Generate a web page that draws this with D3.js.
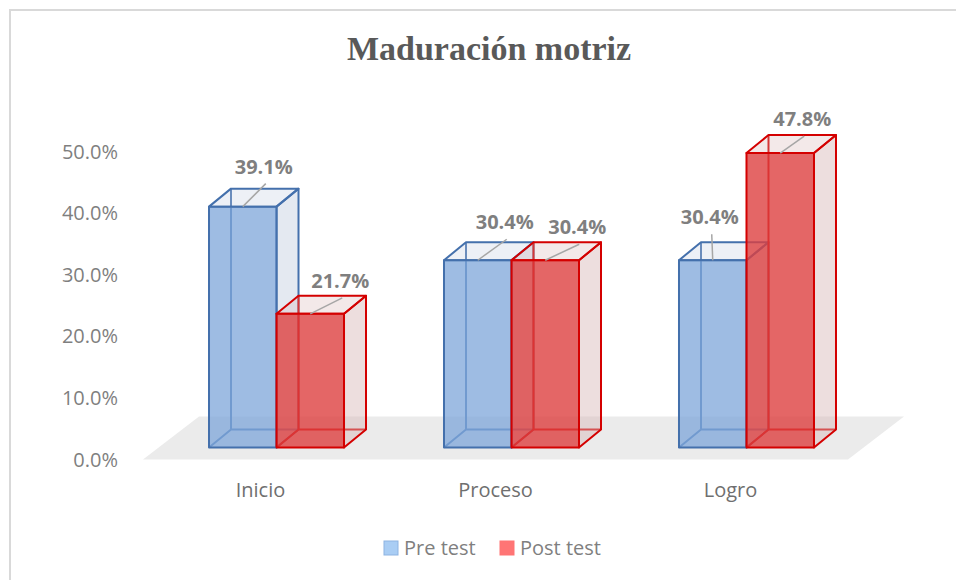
<!DOCTYPE html>
<html>
<head>
<meta charset="utf-8">
<script src="https://cdn.jsdelivr.net/npm/d3@7"></script>
<style>
  body { margin: 0; background: #fff; }
  svg { display: block; }
</style>
</head>
<body>
<div id="chart"></div>
<script>
// data
const categories = ["Inicio", "Proceso", "Logro"];
const seriesNames = ["Pre test", "Post test"];
const preTest = [0.391, 0.304, 0.304];
const postTest = [0.217, 0.304, 0.478];
const yTicks = [0, 0.1, 0.2, 0.3, 0.4, 0.5];

const width = 956, height = 580;

// 3d layout
const floorDepth = { dx: 56, dy: -43 };
const barShift = { dx: 16, dy: -12 };   // bars sit in the middle of the floor
const barDepth = { dx: 22, dy: -18 };
// where excel put each value label, relative to top of the bar
const labelOffset = [
  [[21, -33], [30, -26]],
  [[27, -31], [32, -26]],
  [[-3, -36], [22, -27]]
];

const styles = [
  { stroke: "#4470ac", front: "rgb(127,167,218)", frontOp: 0.76, side: "rgb(196,206,224)", legend: "#a9cdf4", legendStroke: "#8db3e2" },
  { stroke: "#d40000", front: "rgb(221,64,64)", frontOp: 0.8, side: "rgb(216,182,182)", legend: "#ff7575", legendStroke: "#ff7575" }
];

const svg = d3.select("#chart").append("svg")
  .attr("width", width)
  .attr("height", height);

// chart border (only top + left show)
svg.append("rect")
  .attr("x", 10).attr("y", 10)
  .attr("width", width + 20).attr("height", height + 20)
  .attr("fill", "none")
  .attr("stroke", "#d9d9d9")
  .attr("stroke-width", 2);

svg.append("text")
  .attr("x", 489).attr("y", 60)
  .attr("text-anchor", "middle")
  .attr("font-family", "'Liberation Serif', 'Times New Roman', serif")
  .attr("font-weight", "bold")
  .attr("font-size", "34px")
  .attr("fill", "#595959")
  .text("Maduración motriz");

const x0 = d3.scaleBand()
  .domain(categories)
  .range([143, 848])
  .paddingInner(0.4255)
  .paddingOuter(0.2128);

const x1 = d3.scaleBand()
  .domain(seriesNames)
  .range([0, x0.bandwidth()]);

const y = d3.scaleLinear()
  .domain([0, 0.5])
  .range([459.5, 151.5]);

// floor
const fl = x0.range();
svg.append("polygon")
  .attr("points", [
    [fl[0], y(0)], [fl[1], y(0)],
    [fl[1] + floorDepth.dx, y(0) + floorDepth.dy],
    [fl[0] + floorDepth.dx, y(0) + floorDepth.dy]
  ].map(p => p.join(",")).join(" "))
  .attr("fill", "#ebebeb");

// y axis labels
svg.append("g")
  .selectAll("text")
  .data(yTicks)
  .join("text")
    .attr("x", 118)
    .attr("y", d => y(d))
    .attr("dy", "0.35em")
    .attr("text-anchor", "end")
    .attr("font-family", "'Open Sans', sans-serif")
    .attr("font-size", "20px")
    .attr("fill", "#7f7f7f")
    .text(d => d3.format(".1%")(d));

// category labels
svg.append("g")
  .selectAll("text")
  .data(categories)
  .join("text")
    .attr("x", d => x0(d) + x0.bandwidth() / 2)
    .attr("y", 497)
    .attr("text-anchor", "middle")
    .attr("font-family", "'Open Sans', sans-serif")
    .attr("font-size", "20px")
    .attr("fill", "#6f6f6f")
    .text(d => d);

const bars = [];
categories.forEach((c, i) => {
  [preTest[i], postTest[i]].forEach((v, s) => {
    bars.push({ cat: c, ci: i, s: s, value: v });
  });
});

const pts = a => a.map(p => p.join(",")).join(" ");
const gBars = svg.append("g");

bars.forEach(b => {
  const st = styles[b.s];
  const xa = x0(b.cat) + x1(seriesNames[b.s]) + barShift.dx;
  const xb = xa + x1.bandwidth();
  const yb = y(0) + barShift.dy;
  const yt = y(b.value) + barShift.dy;
  const dx = barDepth.dx, dy = barDepth.dy;
  const g = gBars.append("g")
    .attr("stroke", st.stroke)
    .attr("stroke-width", 2)
    .attr("stroke-linejoin", "round");

  // hidden edges seen through the faces
  g.append("polyline")
    .attr("fill", "none")
    .attr("points", pts([[xa, yb], [xa + dx, yb + dy], [xb + dx, yb + dy]]));
  g.append("line")
    .attr("x1", xa + dx).attr("y1", yb + dy)
    .attr("x2", xa + dx).attr("y2", yt + dy);

  // side
  g.append("polygon")
    .attr("points", pts([[xb, yb], [xb + dx, yb + dy], [xb + dx, yt + dy], [xb, yt]]))
    .attr("fill", st.side)
    .attr("fill-opacity", 0.45);
  // top
  g.append("polygon")
    .attr("points", pts([[xa, yt], [xa + dx, yt + dy], [xb + dx, yt + dy], [xb, yt]]))
    .attr("fill", st.side)
    .attr("fill-opacity", 0.3);
  // front
  g.append("rect")
    .attr("x", xa).attr("y", yt)
    .attr("width", xb - xa).attr("height", yb - yt)
    .attr("fill", st.front)
    .attr("fill-opacity", st.frontOp);

  // value label + leader line
  const cx = (xa + xb) / 2;
  const off = labelOffset[b.ci][b.s];
  const tx = cx + off[0], ty = yt + off[1];
  gBars.append("line")
    .attr("x1", tx + 2).attr("y1", ty + 10)
    .attr("x2", cx).attr("y2", yt)
    .attr("stroke", "#a6a6a6")
    .attr("stroke-width", 1.5);
  b.label = { x: tx, y: ty };
});

svg.append("g")
  .selectAll("text")
  .data(bars)
  .join("text")
    .attr("x", d => d.label.x)
    .attr("y", d => d.label.y)
    .attr("text-anchor", "middle")
    .attr("font-family", "'Open Sans', sans-serif")
    .attr("font-weight", "bold")
    .attr("font-size", "20px")
    .attr("fill", "#7f7f7f")
    .text(d => d3.format(".1%")(d.value));

// legend
const legend = svg.append("g");
const legendX = [384, 500];
seriesNames.forEach((name, s) => {
  legend.append("rect")
    .attr("x", legendX[s]).attr("y", 541)
    .attr("width", 14).attr("height", 14)
    .attr("fill", styles[s].legend)
    .attr("stroke", styles[s].legendStroke)
    .attr("stroke-width", 1);
  legend.append("text")
    .attr("x", legendX[s] + 20).attr("y", 555)
    .attr("font-family", "'Open Sans', sans-serif")
    .attr("font-size", "20px")
    .attr("fill", "#7f7f7f")
    .text(name);
});
</script>
</body>
</html>
